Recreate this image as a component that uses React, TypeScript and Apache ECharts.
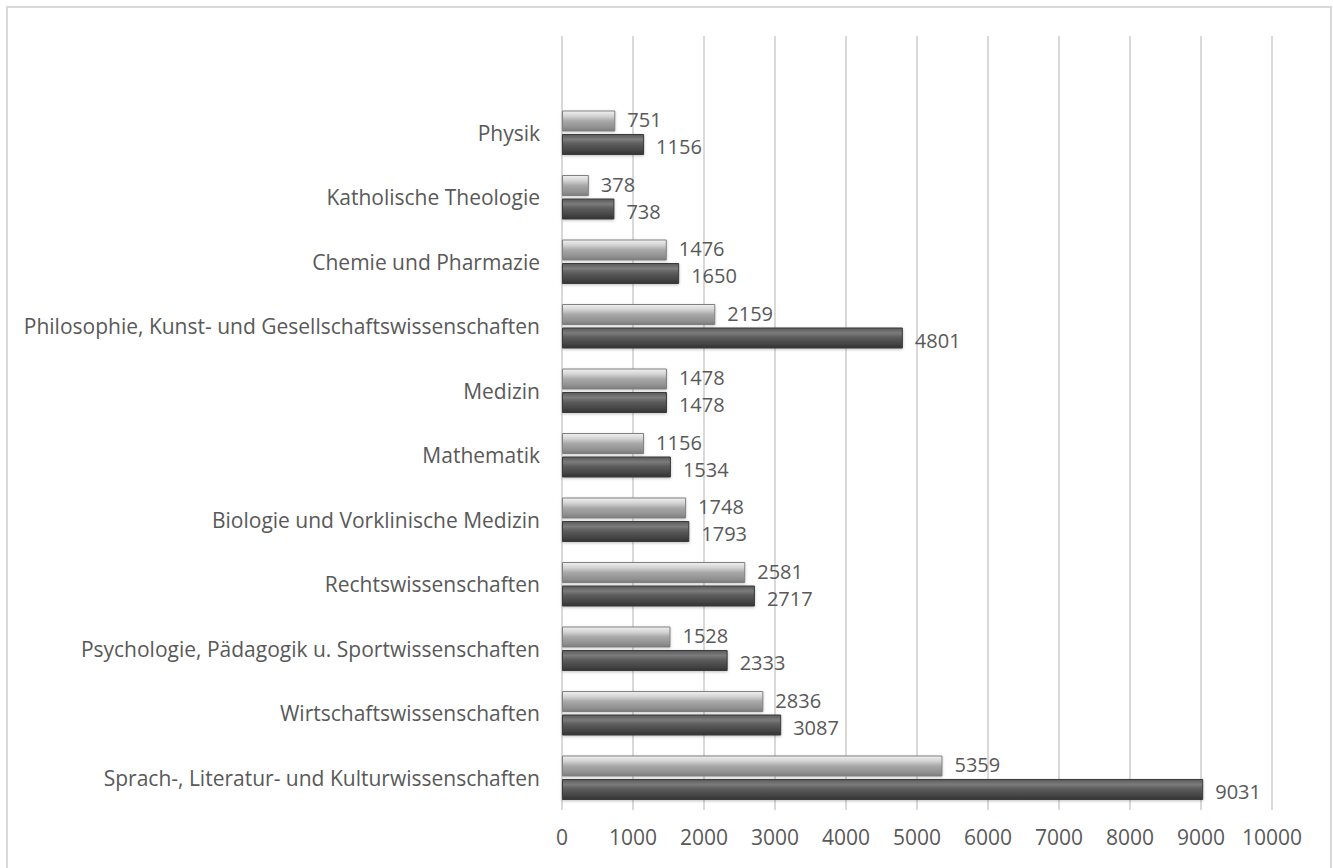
import React, { useEffect, useRef } from "react";
import * as echarts from "echarts";

const categories = [
  "Sprach-, Literatur- und Kulturwissenschaften",
  "Wirtschaftswissenschaften",
  "Psychologie, Pädagogik u. Sportwissenschaften",
  "Rechtswissenschaften",
  "Biologie und Vorklinische Medizin",
  "Mathematik",
  "Medizin",
  "Philosophie, Kunst- und Gesellschaftswissenschaften",
  "Chemie und Pharmazie",
  "Katholische Theologie",
  "Physik",
  "",
];

const darkValues = [9031, 3087, 2333, 2717, 1793, 1534, 1478, 4801, 1650, 738, 1156, null];
const lightValues = [5359, 2836, 1528, 2581, 1748, 1156, 1478, 2159, 1476, 378, 751, null];

const xTicks = { min: 0, max: 10000, interval: 1000 };

const FONT = "'Open Sans', sans-serif";
const TEXT = "#595959";

export default function App() {
  const ref = useRef<HTMLDivElement>(null);
  useEffect(() => {
    document.body.style.margin = "0";
    const chart = echarts.init(ref.current!, null, { renderer: "svg" });
    const darkGrad = new echarts.graphic.LinearGradient(0, 0, 0, 1, [
      { offset: 0, color: "#5a5a5a" },
      { offset: 0.25, color: "#7c7c7c" },
      { offset: 0.45, color: "#5e5e5e" },
      { offset: 0.8, color: "#444444" },
      { offset: 1, color: "#333333" },
    ]);
    const lightGrad = new echarts.graphic.LinearGradient(0, 0, 0, 1, [
      { offset: 0, color: "#f0f0f0" },
      { offset: 0.25, color: "#d4d4d4" },
      { offset: 0.5, color: "#a8a8a8" },
      { offset: 0.85, color: "#8e8e8e" },
      { offset: 1, color: "#7a7a7a" },
    ]);
    const labelCommon = {
      show: true,
      position: "right" as const,
      distance: 12,
      color: TEXT,
      fontFamily: FONT,
      fontSize: 20,
      lineHeight: 20,
    };
    chart.setOption({
      animation: false,
      backgroundColor: "#ffffff",
      textStyle: { fontFamily: FONT },
      graphic: [
        {
          type: "rect",
          shape: { x: 7, y: 7, width: 1324, height: 900 },
          style: { fill: "none", stroke: "#d9d9d9", lineWidth: 2 },
          silent: true,
        },
      ],
      grid: { left: 562, right: 61, top: 36, bottom: 58, containLabel: false },
      xAxis: {
        type: "value",
        min: xTicks.min,
        max: xTicks.max,
        interval: xTicks.interval,
        axisLine: { show: false },
        axisTick: { show: false },
        axisLabel: {
          color: TEXT,
          fontFamily: FONT,
          fontSize: 21,
          margin: 16,
          formatter: (v: number) => String(v),
        },
        splitLine: { show: true, lineStyle: { color: "#d9d9d9", width: 2 } },
      },
      yAxis: {
        type: "category",
        data: categories,
        axisLine: { show: false },
        axisTick: { show: false },
        axisLabel: { color: TEXT, fontFamily: FONT, fontSize: 21, margin: 22 },
      },
      series: [
        {
          type: "bar",
          data: lightValues,
          barWidth: 21,
          barGap: "12%",
          itemStyle: { color: lightGrad, borderColor: "#808080", borderWidth: 1, shadowColor: "rgba(0,0,0,0.2)", shadowBlur: 3, shadowOffsetY: 1 },
          label: { ...labelCommon, offset: [0, -1] },
        },
        {
          type: "bar",
          data: darkValues,
          barWidth: 21,
          barGap: "12%",
          itemStyle: { color: darkGrad, borderColor: "#3a3a3a", borderWidth: 1, shadowColor: "rgba(0,0,0,0.25)", shadowBlur: 3, shadowOffsetY: 1 },
          label: { ...labelCommon, offset: [0, 2] },
        },
      ],
    });
    return () => chart.dispose();
  }, []);
  return <div ref={ref} style={{ width: 1333, height: 868, position: "absolute", left: 0, top: 0 }} />;
}
